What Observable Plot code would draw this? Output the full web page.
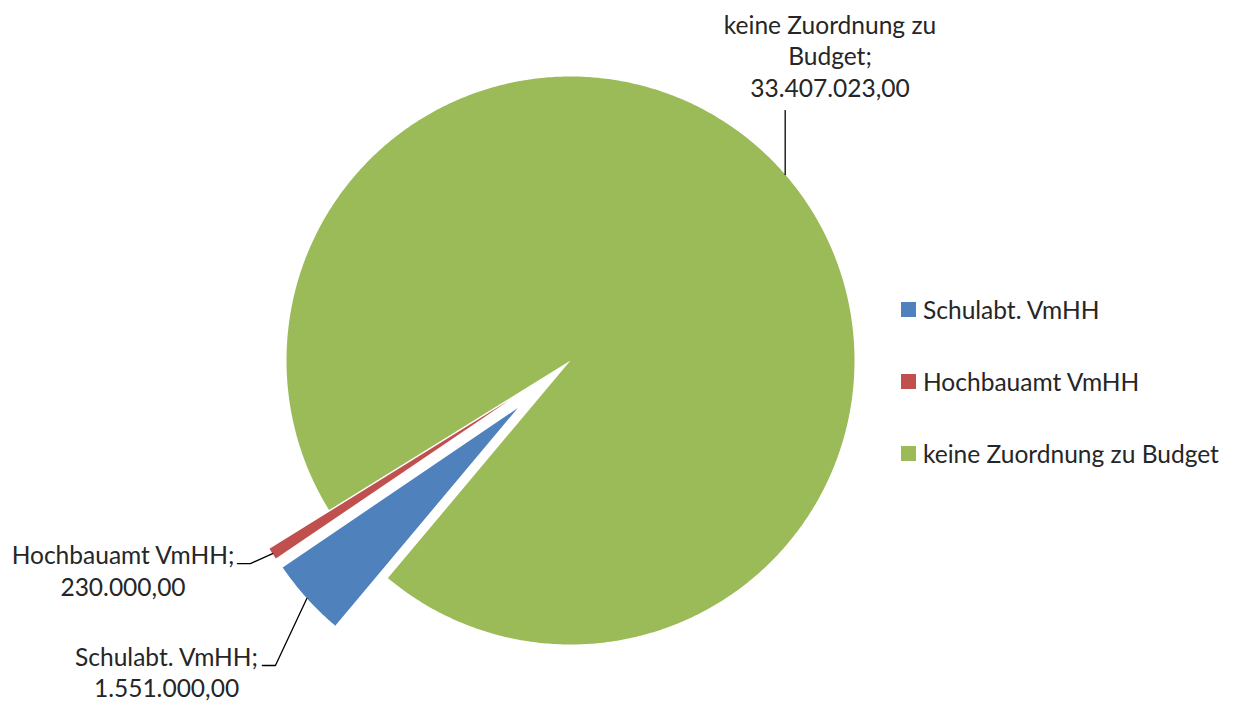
<!DOCTYPE html>
<html>
<head>
<meta charset="utf-8">
<script src="https://cdn.jsdelivr.net/npm/d3@7"></script>
<script src="https://cdn.jsdelivr.net/npm/@observablehq/plot@0.6"></script>
<style>
  body { margin: 0; background: #fff; }
  #wrap { position: relative; width: 1235px; height: 706px; font-family: Lato, "Open Sans", sans-serif; }
  #wrap svg { position: absolute; left: 0; top: 0; }
  #legend { position: absolute; left: 901px; top: 297px; display: flex; flex-direction: column; row-gap: 48px; }
  .item { display: flex; align-items: center; height: 24px; white-space: nowrap; color: #262626; }
  .sw { width: 15px; height: 15px; margin-right: 7px; flex: none; }
</style>
</head>
<body>
<div id="wrap"><div id="legend"></div></div>
<script>
// ---- data ----
const categories = ["Schulabt. VmHH", "Hochbauamt VmHH", "keine Zuordnung zu Budget"];
const values = [1551000, 230000, 33407023];
const valueLabels = ["1.551.000,00", "230.000,00", "33.407.023,00"];
const labelLines = [["Schulabt. VmHH;"], ["Hochbauamt VmHH;"], ["keine Zuordnung zu", "Budget;"]];
const colors = ["#4F81BD", "#C0504D", "#9BBB59"];

// ---- layout config (pie radius units, centre = 0,0, y down) ----
const firstSliceAngle = 220;          // degrees, clockwise from 12 o'clock
const explode = [0.25, 0.25, 0];
const leaderKnees = [
  [[-1.039, 1.074], [-1.085, 1.074]],
  [[-1.127, 0.715], [-1.173, 0.715]],
  [[null, -0.880]]
];
const labelAnchors = [[-1.4225, 1.1866], [-1.5757, 0.8275], [0.9137, -0.927]];

// ---- font sizing ----
const ctx = document.createElement("canvas").getContext("2d");
ctx.font = "100px Lato";
const fs = 296 * 100 / ctx.measureText("keine Zuordnung zu Budget").width;

// ---- geometry from data ----
const deg = Math.PI / 180;
const arcs = d3.pie().sort(null).value(d => d)
  .startAngle(firstSliceAngle * deg).endAngle((firstSliceAngle + 360) * deg)(values);

const slicePts = [];
const leaderPts = [];
const labels = [];
arcs.forEach((a, i) => {
  const name = categories[i];
  const mid = (a.startAngle + a.endAngle) / 2;
  const ox = explode[i] * Math.sin(mid), oy = -explode[i] * Math.cos(mid);
  slicePts.push({name, x: ox, y: oy});
  const n = Math.max(2, Math.ceil((a.endAngle - a.startAngle) / (0.5 * deg)));
  for (let k = 0; k <= n; k++) {
    const t = a.startAngle + (a.endAngle - a.startAngle) * k / n;
    slicePts.push({name, x: ox + Math.sin(t), y: oy - Math.cos(t)});
  }
  slicePts.push({name, x: ox, y: oy});
  const mx = ox + Math.sin(mid), my = oy - Math.cos(mid);
  leaderPts.push({name, x: mx, y: my});
  for (const [kx, ky] of leaderKnees[i]) leaderPts.push({name, x: kx == null ? mx : kx, y: ky});
  labels.push({name, x: labelAnchors[i][0], y: labelAnchors[i][1],
               text: [...labelLines[i], valueLabels[i]].join("\n")});
});

const plot = Plot.plot({
  width: 1235,
  height: 706,
  margin: 0,
  x: {domain: [-1, 1], range: [570 - 284, 570 + 284], axis: null},
  y: {domain: [-1, 1], range: [360 - 284, 360 + 284], axis: null},
  color: {domain: categories, range: colors},
  style: {fontFamily: "Lato, 'Open Sans', sans-serif", background: "transparent"},
  marks: [
    Plot.line(slicePts, {x: "x", y: "y", z: "name", fill: "name", stroke: "none"}),
    Plot.line(leaderPts, {x: "x", y: "y", z: "name", stroke: "#000", strokeWidth: 1.3}),
    Plot.text(labels, {x: "x", y: "y", text: "text", textAnchor: "middle", lineAnchor: "bottom",
                       lineHeight: 31.8 / fs, fontSize: fs, fill: "#262626"})
  ]
});
document.getElementById("wrap").prepend(plot);

// ---- legend ----
const legend = document.getElementById("legend");
categories.forEach((c, i) => {
  const item = document.createElement("div");
  item.className = "item";
  item.style.fontSize = fs + "px";
  const sw = document.createElement("span");
  sw.className = "sw";
  sw.style.background = colors[i];
  const tx = document.createElement("span");
  tx.textContent = c;
  item.append(sw, tx);
  legend.append(item);
});
</script>
</body>
</html>
